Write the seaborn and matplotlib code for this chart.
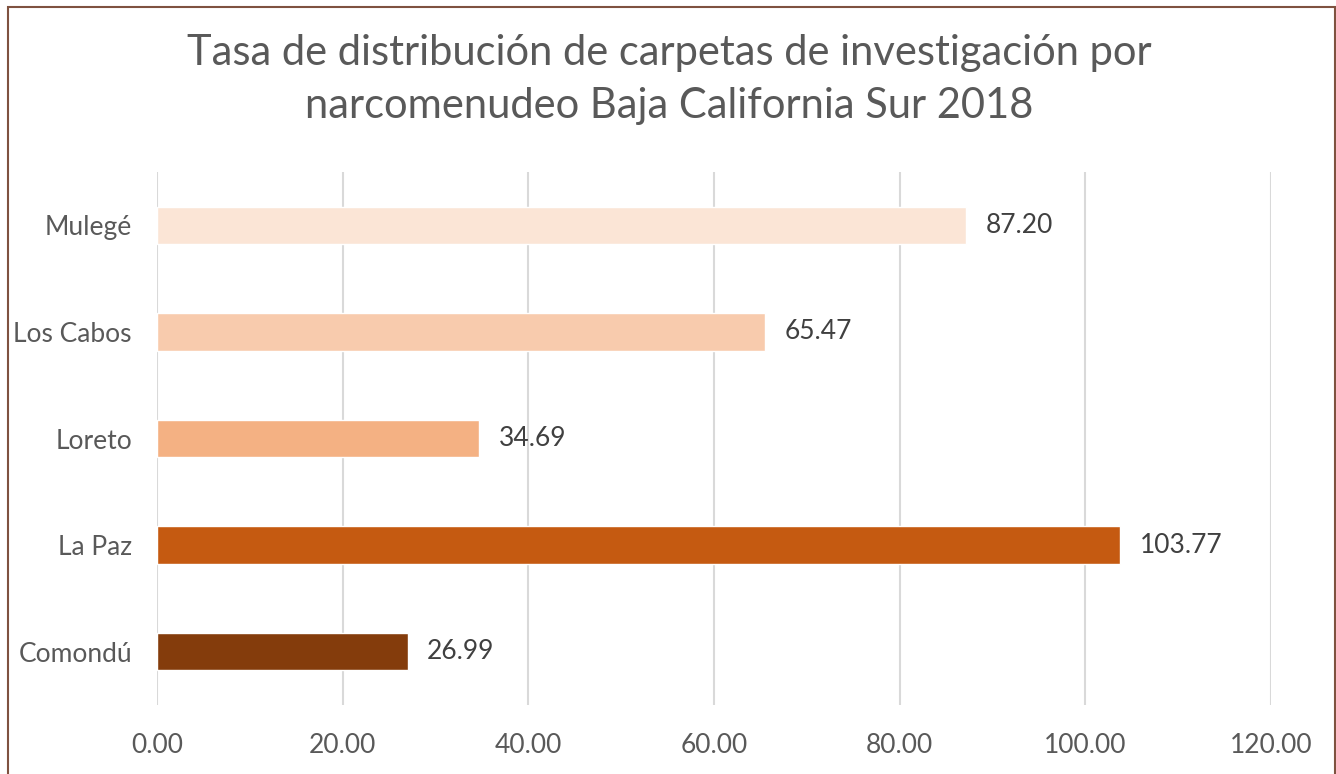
import pandas as pd
import matplotlib
matplotlib.use("Agg")
import matplotlib.pyplot as plt
import matplotlib.patches as patches
import seaborn as sns

# ---------------------------------------------------------
# Data
# ---------------------------------------------------------
municipios = ['Mulegé', 'Los Cabos', 'Loreto', 'La Paz', 'Comondú']
tasas = [87.20, 65.47, 34.69, 103.77, 26.99]
colores = ['#FBE5D6', '#F8CBAD', '#F4B183', '#C55A11', '#843C0C']
x_ticks = [0, 20, 40, 60, 80, 100, 120]
titulo = 'Tasa de distribución de carpetas de investigación por\nnarcomenudeo Baja California Sur 2018'

df = pd.DataFrame({'Municipio': municipios, 'Tasa': tasas})
paleta = dict(zip(municipios, colores))

sns.set_theme(style='white')
plt.rcParams['font.family'] = ['Lato', 'DejaVu Sans']

fig = plt.figure(figsize=(13.36, 7.74), dpi=100)
ax = fig.add_axes([0.1175, 0.0891, 0.8338, 0.6887])

sns.barplot(data=df, x='Tasa', y='Municipio', hue='Municipio', palette=paleta,
            order=municipios, hue_order=municipios, orient='h', width=0.35,
            legend=False, saturation=1, ax=ax)

# value labels at the end of each bar
for cont in ax.containers:
    ax.bar_label(cont, fmt='%.2f', padding=14, fontsize=19, color='#404040')

ax.set_xlim(0, 120)
ax.set_xticks(x_ticks)
ax.set_xticklabels([f'{v:.2f}' for v in x_ticks])
ax.set_xlabel('')
ax.set_ylabel('')
ax.grid(axis='x', color='#D9D9D9', linewidth=1.5)
ax.grid(axis='y', visible=False)
ax.set_axisbelow(True)
for s in ax.spines.values():
    s.set_visible(False)
ax.tick_params(axis='x', length=0, pad=20, labelsize=19, labelcolor='#595959')
ax.tick_params(axis='y', length=0, pad=18, labelsize=19, labelcolor='#595959')

fig.text(0.501, 0.897, titulo, ha='center', va='center', fontsize=30,
         color='#595959', linespacing=1.5)

# chart border (brown frame)
borde = patches.Rectangle((0.006, -0.02), 0.993, 1.011, transform=fig.transFigure,
                          fill=False, edgecolor='#7F5240', linewidth=1.5, clip_on=False)
fig.patches.append(borde)

fig.savefig('out.png', dpi=100, facecolor='white')
